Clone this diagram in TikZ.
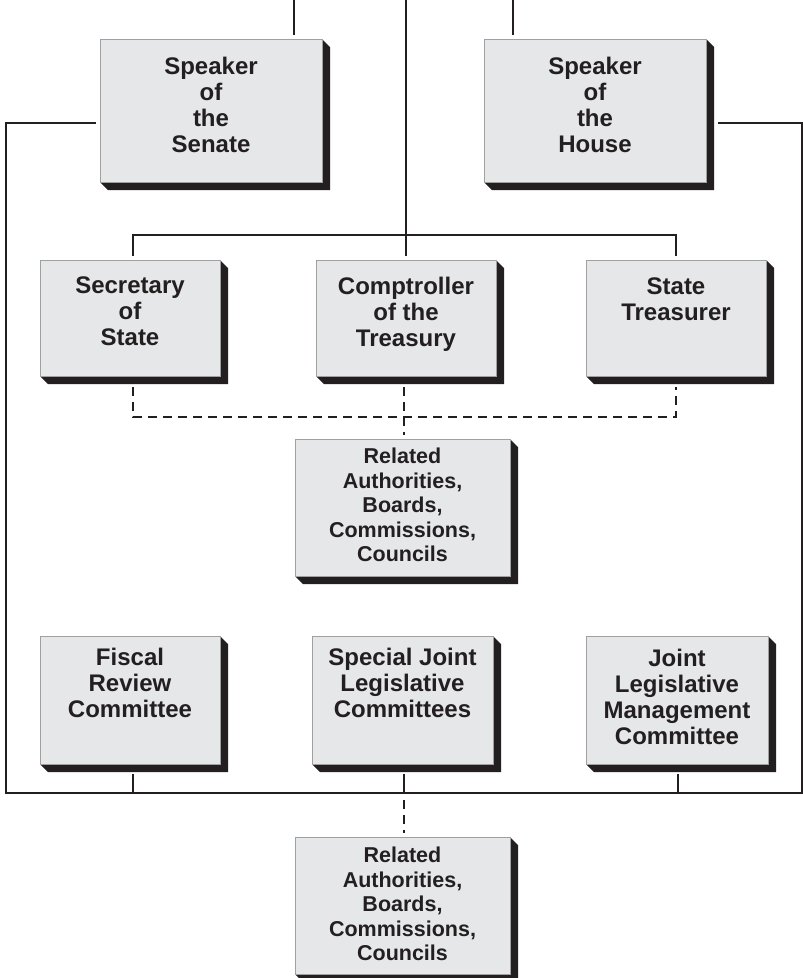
\documentclass[tikz,border=0pt]{standalone}
\usepackage{fontspec}
\setmainfont{Liberation Sans}
\usetikzlibrary{calc}
\definecolor{linec}{HTML}{231F20}
\definecolor{facec}{HTML}{E6E7E8}
\definecolor{edgec}{HTML}{A0A0A0}
\newcommand\orgnode[5]{%
  \fill[linec] (#4,#3) -- (#4+8,#3+8) -- (#4+8,#5+8) -- (#2+8,#5+8) -- (#2,#5) -- (#4,#5) -- cycle;
  \node[orgbox, minimum width={(#4-#2)*1pt}, minimum height={(#5-#3)*1pt}] (#1) at ({(#2+#4)/2},{(#3+#5)/2}) {};}
\begin{document}
\begin{tikzpicture}[x=1pt,y=-1pt,
  orgbox/.style={draw=edgec, line width=0.8pt, fill=facec, rectangle, inner sep=0pt, outer sep=0pt},
  boxtext/.style={anchor=north, inner sep=0pt, align=center, font=\fontsize{24}{26}\selectfont\bfseries, text=linec},
  smalltext/.style={boxtext, font=\fontsize{21.5}{24.5}\selectfont\bfseries},
  conn/.style={draw=linec, line width=2.4pt},
  dconn/.style={conn, dash pattern=on 9pt off 6pt}]
\useasboundingbox (0,0) rectangle (803,978);

% boxes
\orgnode{sen}{100}{39}{322}{182}
\orgnode{hou}{484}{39}{706}{182}
\orgnode{sec}{40}{260}{220}{376}
\orgnode{comp}{316}{260}{496}{376}
\orgnode{treas}{586}{260}{766}{376}
\orgnode{rel1}{295}{439}{510}{576}
\orgnode{fisc}{40}{636}{220}{764}
\orgnode{spec}{312}{636}{493}{764}
\orgnode{jlm}{586}{636}{768}{764}
\orgnode{rel2}{295}{837}{510}{974}

% texts
\node[boxtext] (tsen) at ($(sen.north)+(0,18)$) {Speaker\\of\\the\\Senate};
\node[boxtext] (thou) at ($(hou.north)+(0,18)$) {Speaker\\of\\the\\House};
\node[boxtext] (tsec) at ($(sec.north)+(0,17)$) {Secretary\\of\\State};
\node[boxtext] (tcomp) at ($(comp.north)+(0,17)$) {Comptroller\\of the\\Treasury};
\node[boxtext] (ttreas) at ($(treas.north)+(0,18)$) {State\\Treasurer};
\node[smalltext] (trel1) at ($(rel1.north)+(0,9)$) {Related\\Authorities,\\Boards,\\Commissions,\\Councils};
\node[boxtext] (tfisc) at ($(fisc.north)+(0,12)$) {Fiscal\\Review\\Committee};
\node[boxtext] (tspec) at ($(spec.north)+(0,12)$) {Special Joint\\Legislative\\Committees};
\node[boxtext] (tjlm) at ($(jlm.north)+(0,13)$) {Joint\\Legislative\\Management\\Committee};
\node[smalltext] (trel2) at ($(rel2.north)+(0,10)$) {Related\\Authorities,\\Boards,\\Commissions,\\Councils};

% junction coordinates
\coordinate (topS) at (294,0);
\coordinate (topC) at (406,0);
\coordinate (topH) at (513,0);
\coordinate (bl) at (6,793);
\coordinate (br) at (802,793);
\coordinate (j1) at (133,235);
\coordinate (j3) at (676,235);
\coordinate (d1) at (133,417);
\coordinate (d3) at (676,417);
\coordinate (dc) at (404,417);
\coordinate (b1) at (133,793);
\coordinate (b2) at (404,793);
\coordinate (b3) at (678,793);

% solid connectors
\draw[conn, shorten >=4pt] (topS) -- (topS |- sen.north);
\draw[conn, shorten >=4pt] (topC) -- (topC |- comp.north);
\draw[conn, shorten >=4pt] (topH) -- (topH |- hou.north);
\draw[conn, shorten <=4pt, shorten >=12pt] ($(sen.west)+(0,12.5)$) -| (bl) -- (br) |- ($(hou.east)+(0,12.5)$);
\draw[conn, shorten <=4pt, shorten >=4pt] (j1 |- sec.north) -- (j1) -- (j3) -- (j3 |- treas.north);
\draw[conn, shorten <=10pt] (b1 |- fisc.south) -- (b1);
\draw[conn, shorten <=10pt] (b2 |- spec.south) -- (b2);
\draw[conn, shorten <=10pt] (b3 |- jlm.south) -- (b3);

% dashed connectors
\draw[dconn, shorten <=11pt, shorten >=11pt] (d1 |- sec.south) -- (d1) -- (d3) -- (d3 |- treas.south);
\draw[dconn, shorten <=11pt, shorten >=4pt] (dc |- comp.south) -- (dc |- rel1.north);
\draw[dconn, shorten <=7pt, shorten >=4pt] (b2) -- (b2 |- rel2.north);
\end{tikzpicture}
\end{document}
